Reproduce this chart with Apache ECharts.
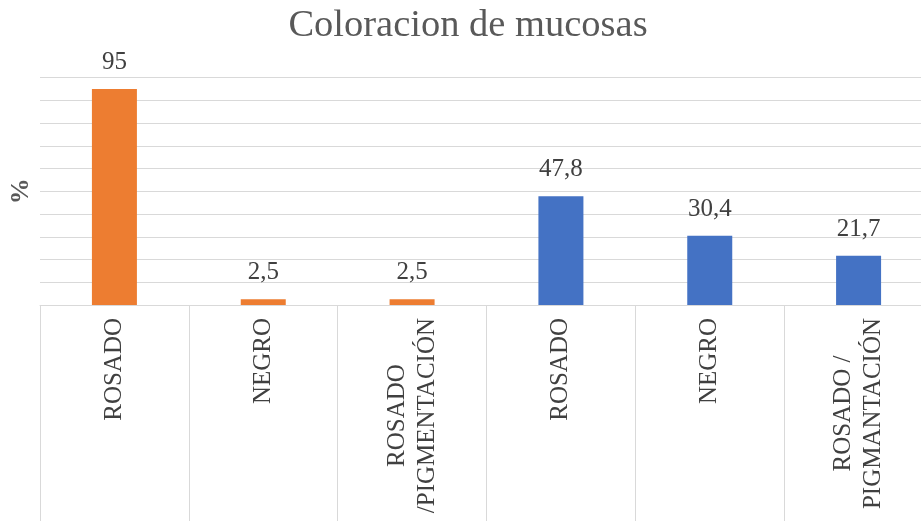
<!DOCTYPE html>
<html>
<head>
<meta charset="utf-8">
<script src="https://cdn.jsdelivr.net/npm/echarts@6/dist/echarts.min.js"></script>
<style>
html,body{margin:0;padding:0;background:#fff;overflow:hidden;}
#chart{width:921px;height:524px;}
</style>
</head>
<body>
<div id="chart"></div>
<script>
const titleText = 'Coloracion de mucosas';
const yAxisName = '%';
const categories = ['ROSADO', 'NEGRO', 'ROSADO\n/PIGMENTACIÓN', 'ROSADO', 'NEGRO', 'ROSADO /\nPIGMANTACIÓN'];
const group1Values = [95, 2.5, 2.5, '-', '-', '-'];
const group2Values = ['-', '-', '-', 47.8, 30.4, 21.7];

const serif = '"Liberation Serif", "Times New Roman", serif';
const fmt = v => String(v).replace('.', ',');

const labelStyle = {
  show: true,
  position: 'top',
  distance: 14,
  fontFamily: serif,
  fontSize: 25,
  color: '#404040',
  formatter: p => fmt(p.value)
};

const chart = echarts.init(document.getElementById('chart'));
chart.setOption({
  backgroundColor: '#ffffff',
  animation: false,
  title: {
    text: titleText,
    left: 463,
    textAlign: 'center',
    top: 1,
    textStyle: { fontFamily: serif, fontSize: 38.5, fontWeight: 'normal', color: '#595959' }
  },
  grid: { left: 40, right: -12, top: 77.5, bottom: 219, containLabel: false, outerBoundsMode: 'none' },
  xAxis: {
    type: 'category',
    data: categories,
    axisLine: { show: true, lineStyle: { color: '#d9d9d9', width: 1 } },
    axisTick: { show: true, interval: 0, length: 216, alignWithLabel: false, lineStyle: { color: '#d9d9d9', width: 1 } },
    axisLabel: {
      interval: 0,
      rotate: 90,
      margin: 13,
      fontFamily: serif,
      fontSize: 25,
      color: '#404040',
      formatter: v => v.split('\n').map(s => '{c|' + s + '}').join('\n'),
      rich: { c: { align: 'center', fontFamily: serif, fontSize: 25, color: '#404040', lineHeight: 30 } }
    }
  },
  yAxis: {
    type: 'value',
    min: 0,
    max: 100,
    interval: 10,
    name: yAxisName,
    nameLocation: 'middle',
    nameGap: 6,
    nameTextStyle: { fontFamily: serif, fontSize: 26, fontWeight: 'bold', color: '#595959' },
    axisLine: { show: false },
    axisTick: { show: false },
    axisLabel: { show: false },
    splitLine: { show: true, lineStyle: { color: '#d9d9d9', width: 1 } }
  },
  series: [
    {
      type: 'bar',
      data: group1Values,
      barWidth: 45,
      barGap: '-100%',
      itemStyle: { color: '#ED7D31' },
      label: labelStyle
    },
    {
      type: 'bar',
      data: group2Values,
      barWidth: 45,
      barGap: '-100%',
      itemStyle: { color: '#4472C4' },
      label: labelStyle
    }
  ]
});
</script>
</body>
</html>
